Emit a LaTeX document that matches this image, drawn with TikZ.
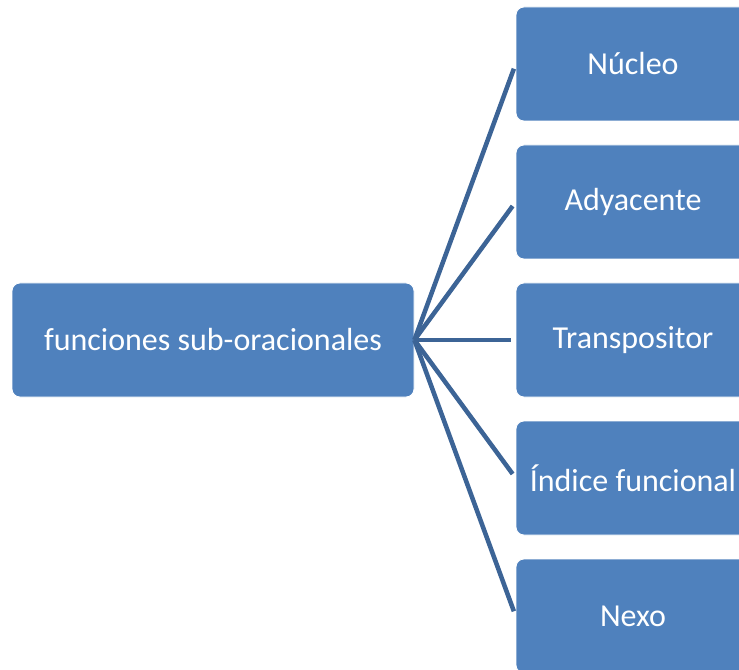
\documentclass[tikz,border=0pt]{standalone}
\usepackage{fontspec}
\setmainfont{Carlito}
\definecolor{boxblue}{HTML}{4F81BD}
\definecolor{linkblue}{HTML}{3C6496}

\begin{document}
\begin{tikzpicture}[x=0.75pt, y=-0.75pt, grow' = right, level distance=315pt, sibling distance=103.5pt,
	box/.style = {draw=white, line width=0.6pt, fill=boxblue, rounded corners=6pt, text=white,
		minimum height=85.5pt, inner sep=0pt, font=\fontsize{24}{29}\selectfont},
	rootbox/.style = {box, minimum width=301.5pt},
	leafbox/.style = {box, minimum width=175.5pt},
	edge from parent/.style = {draw=linkblue, line width=3.4pt, shorten >=3.75pt},
	parent anchor=east, child anchor=west]
	\useasboundingbox (0,0) rectangle (739,670);
				\node[rootbox] (root) at (213,340) {funciones sub-oracionales}
				child { node[leafbox] (nucleo) {Núcleo} }
				child { node[leafbox] (adyacente) {Adyacente} }
				child { node[leafbox] (transpositor) {Transpositor} }
				child { node[leafbox] (indice) {Índice funcional} }
				child { node[leafbox] (nexo) {Nexo} };
				
				\end{tikzpicture}
\end{document}
